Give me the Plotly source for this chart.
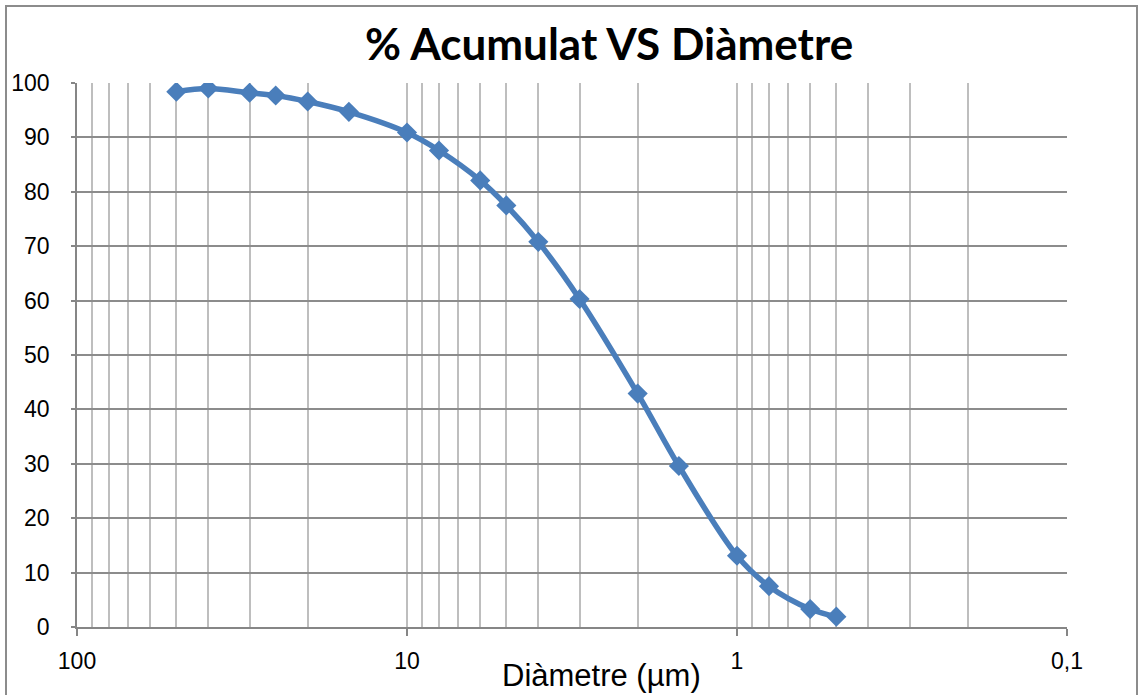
import plotly.graph_objects as go

# Data
diametre = [50, 40, 30, 25, 20, 15, 10, 8, 6, 5, 4, 3, 2, 1.5, 1, 0.8, 0.6, 0.5]
acumulat = [98.4, 99.0, 98.2, 97.7, 96.6, 94.7, 90.9, 87.6, 82.1, 77.5, 70.8, 60.3, 42.9, 29.6, 13.1, 7.5, 3.3, 1.9]

x_major_vals = [100, 10, 1, 0.1]
x_major_text = ["100", "10", "1", "0,1"]
y_ticks = [0, 10, 20, 30, 40, 50, 60, 70, 80, 90, 100]

title_text = "% Acumulat VS Diàmetre"
x_title = "Diàmetre (µm)"

minor_vals = [m * d for d in [0.1, 1, 10] for m in range(2, 10)]

LINE_BLUE = "#4A7EBB"

fig = go.Figure()
fig.add_trace(go.Scatter(
    x=diametre, y=acumulat,
    mode="lines+markers",
    line=dict(color=LINE_BLUE, width=5.5, shape="spline", smoothing=1.0),
    marker=dict(symbol="diamond", size=15.5, color=LINE_BLUE, line=dict(width=0)),
    showlegend=False,
))

W, H = 1141, 695
L, R, T, B = 77, 74, 83, 68
pw, ph = W - L - R, H - T - B

def px_x(p):
    return (p - L) / pw

def px_y(p):
    return (H - B - p) / ph

fig.update_layout(
    width=W, height=H,
    margin=dict(l=L, r=R, t=T, b=B, pad=0, autoexpand=False),
    paper_bgcolor="white",
    plot_bgcolor="white",
    font=dict(family="Liberation Sans, Arial, sans-serif", color="black"),
    xaxis=dict(
        type="log",
        range=[2, -1],
        automargin=False,
        tickmode="array",
        tickvals=x_major_vals,
        ticktext=x_major_text,
        tickfont=dict(size=23, family="Liberation Sans", color="black"),
        ticks="outside", ticklen=7, tickcolor="#868686", tickwidth=1.5,
        showgrid=True, gridcolor="#BEBEBE", gridwidth=1.5,
        showline=True, linecolor="#868686", linewidth=1.5,
        zeroline=False,
        ticklabelstandoff=6,
        minor=dict(tickmode="array", tickvals=minor_vals, showgrid=True,
                   gridcolor="#BEBEBE", gridwidth=1.5, ticks=""),
    ),
    yaxis=dict(
        range=[0, 100],
        automargin=False,
        tickmode="array",
        tickvals=y_ticks,
        tickfont=dict(size=23, family="Liberation Sans", color="black"),
        ticks="outside", ticklen=4, tickcolor="#868686", tickwidth=1.5,
        showgrid=True, gridcolor="#8C8C8C", gridwidth=1.5,
        showline=True, linecolor="#868686", linewidth=1.5,
        zeroline=False,
        ticklabelstandoff=17,
    ),
    shapes=[
        dict(type="rect", xref="paper", yref="paper",
             x0=px_x(6), x1=px_x(1137), y0=px_y(705), y1=px_y(6),
             line=dict(color="#8C8C8C", width=2), fillcolor="rgba(0,0,0,0)",
             layer="below"),
    ],
    annotations=[
        dict(text="<b>" + title_text + "</b>", xref="paper", yref="paper",
             x=px_x(609), y=px_y(43), xanchor="center", yanchor="middle",
             showarrow=False,
             font=dict(family="Lato, Open Sans, sans-serif", size=44, color="black")),
        dict(text=x_title, xref="paper", yref="paper",
             x=px_x(601), y=px_y(675), xanchor="center", yanchor="middle",
             showarrow=False,
             font=dict(family="Liberation Sans, Arial, sans-serif", size=31, color="black")),
    ],
)

fig.write_html("out.html")
